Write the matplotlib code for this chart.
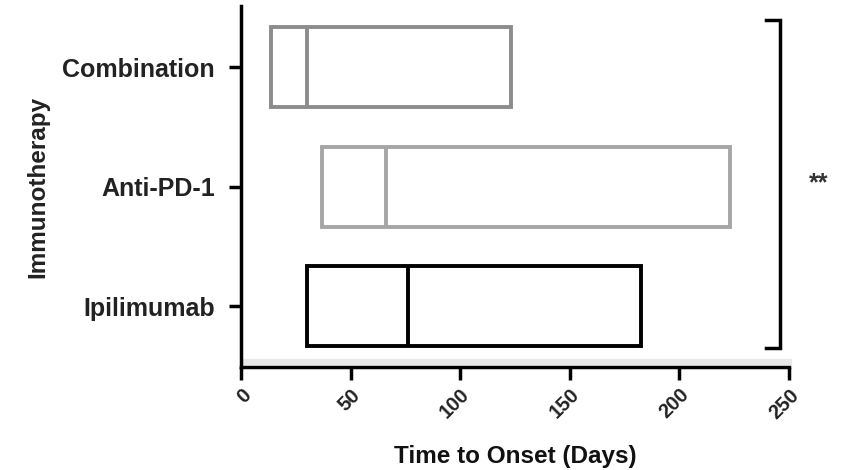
import numpy as np
import matplotlib.pyplot as plt
import matplotlib.transforms as mtrans

# time to onset (days): min, median, max per therapy
groups = ['Ipilimumab', 'Anti-PD-1', 'Combination']
low = [30, 37, 13.5]
median = [76, 66, 30]
high = [182.5, 223, 123]
colors = ['#000000', '#a6a6a6', '#8c8c8c']
xticks = [0, 50, 100, 150, 200, 250]

plt.rcParams['font.family'] = ['Liberation Sans', 'DejaVu Sans']
plt.rcParams['font.weight'] = 'bold'

fig = plt.figure(figsize=(8.41, 4.70), dpi=100)
ax = fig.add_axes([0.2866, 0.219, 0.6515, 0.768])

y = np.arange(len(groups))
lo = np.array(low)
hi = np.array(high)
h = 0.67
ax.barh(y, hi - lo, left=lo, height=h, fill=False, edgecolor=colors, linewidth=2.8)
for yi, m, c in zip(y, median, colors):
    ax.plot([m, m], [yi - h / 2, yi + h / 2], color=c, lw=2.8, solid_capstyle='butt')

ax.set_xlim(0, 250)
ax.set_ylim(-0.51, 2.51)
ax.set_yticks(y)
ax.set_yticklabels(groups, fontsize=18, fontweight='bold', color='#222222')
ax.set_xticks(xticks)
ax.set_xticklabels([str(t) for t in xticks], rotation=45, ha='right', rotation_mode='anchor',
                   fontsize=14.5, fontweight='bold', color='#222222')
ax.set_xlabel('Time to Onset (Days)', fontsize=17.5, fontweight='bold', labelpad=16, color='#111111')
ax.set_ylabel('Immunotherapy', fontsize=17.5, fontweight='bold', labelpad=9, color='#222222')

for s in ['top', 'right']:
    ax.spines[s].set_visible(False)
for s in ['left', 'bottom']:
    ax.spines[s].set_linewidth(2.5)
ax.tick_params(axis='both', width=2.5, length=9, color='black')
ax.tick_params(axis='y', pad=10)
ax.tick_params(axis='x', pad=4)

# faint grey band just above the x axis (blur seen in the original)
up = ax.transAxes + mtrans.ScaledTranslation(0, 4 / 72, fig.dpi_scale_trans)
ax.plot([0.005, 1], [0, 0], color='#e8e8e8', lw=4.5, transform=up, clip_on=False, zorder=1)

# significance bracket
bx = 246
ax.plot([bx - 6.5, bx, bx, bx - 6.5], [2.39, 2.39, -0.35, -0.35], color='black', lw=2.5,
        clip_on=False, solid_joinstyle='miter')
ax.text(bx + 17.5, 1.03, '**', fontsize=18, fontweight='bold', ha='center', va='center',
        color='#333333')

fig.savefig('out.png', dpi=100)
